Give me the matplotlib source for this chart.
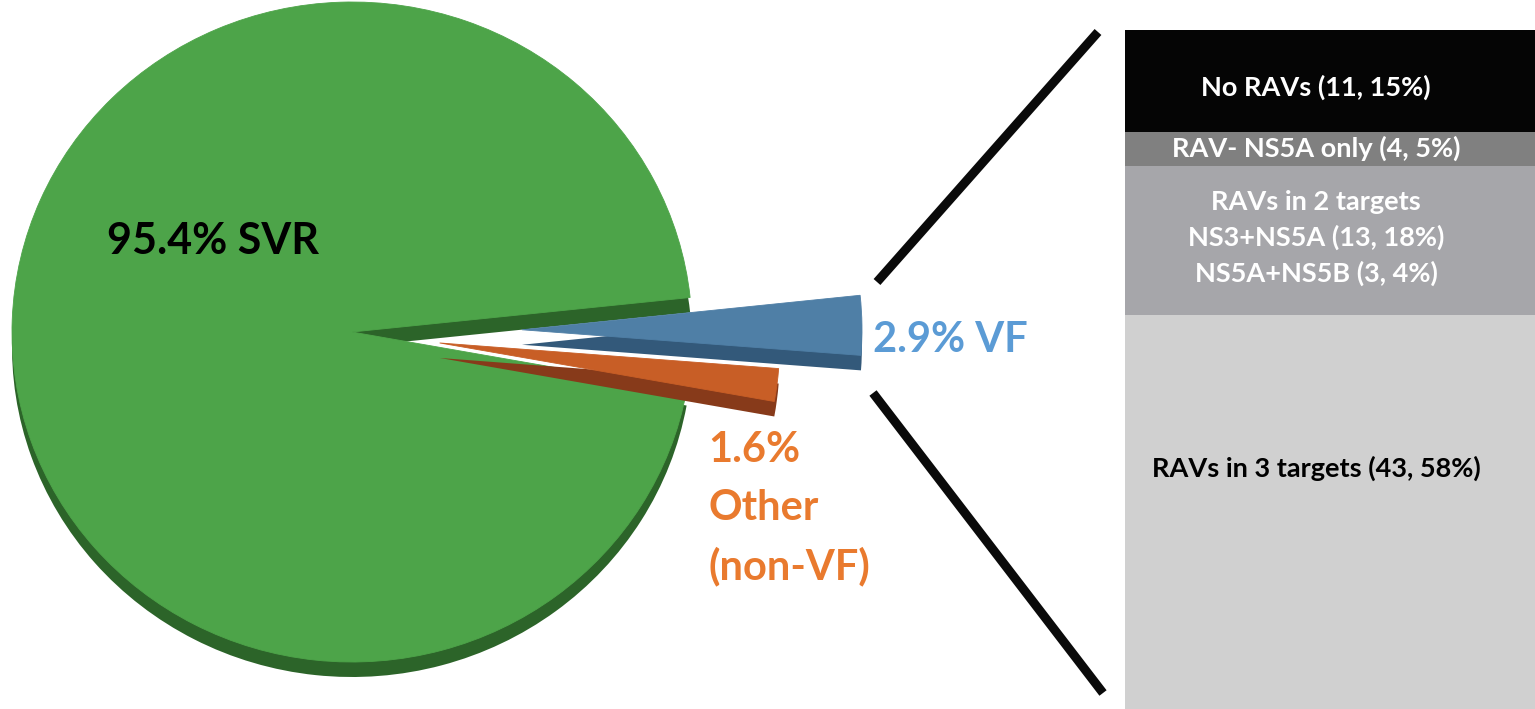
import matplotlib
matplotlib.use("Agg")
import matplotlib.pyplot as plt
import numpy as np

# ---------------- data ----------------
pie_labels = ["95.4% SVR", "1.6%\nOther\n(non-VF)", "2.9% VF"]
pie_values = [95.4, 1.6, 2.9]
pie_explode = [0.0, 0.26, 0.50]

bar_labels = ["No RAVs (11, 15%)",
              "RAV- NS5A only (4, 5%)",
              "RAVs in 2 targets\nNS3+NS5A (13, 18%)\nNS5A+NS5B (3, 4%)",
              "RAVs in 3 targets (43, 58%)"]
bar_values = [15, 5, 22, 58]

# ---------------- style ----------------
W, H = 1535, 709
plt.rcParams['font.family'] = ['Lato', 'DejaVu Sans']
top_colors = ["#4DA449", "#C85E26", "#4F7FA6"]
side_colors = ["#2C6429", "#873A1A", "#33597A"]
zbase = [1, 5, 3]
bar_colors = ["#050505", "#808080", "#A6A6AA", "#D0D0D0"]
bar_text_colors = ["white", "white", "white", "black"]
bar_label_shift = [0.9, 0.0, -0.4, -6.5]   # label position tweak (% units)

fig = plt.figure(figsize=(W / 100, H / 100), dpi=100)

# pie geometry in pixels
cx, cy, rx, ry = 352, 332, 340, 330
depth = 15 / ry

ax = fig.add_axes([0, 0, 1, 1])
side, _ = ax.pie(pie_values, explode=pie_explode, startangle=6, counterclock=True,
                 colors=side_colors, center=(0, -depth),
                 wedgeprops=dict(linewidth=0))
top, _ = ax.pie(pie_values, explode=pie_explode, startangle=6, counterclock=True,
                colors=top_colors, center=(0, 0),
                wedgeprops=dict(linewidth=0.6))
for i in range(3):
    side[i].set_zorder(zbase[i])
    top[i].set_zorder(zbase[i] + 1)
    top[i].set_edgecolor(top_colors[i])
ax.set_aspect('auto')
ax.set_xlim(-cx / rx, (W - cx) / rx)
ax.set_ylim((cy - H) / ry, cy / ry)
ax.axis('off')

# overlay in pixel coordinates
ov = fig.add_axes([0, 0, 1, 1], facecolor='none')
ov.set_xlim(0, W)
ov.set_ylim(H, 0)
ov.axis('off')

ov.text(107, 241, pie_labels[0], fontsize=31, fontweight='bold', color='black',
        ha='left', va='center')
ov.text(873, 340, pie_labels[2], fontsize=30, fontweight='bold', color='#5B9BD5',
        ha='left', va='center')
ov.text(708, 509, pie_labels[1], fontsize=30, fontweight='bold', color='#E97A2E',
        ha='left', va='center', linespacing=1.62)

ov.plot([877, 1098], [282, 32], color='#0A0A0A', lw=6.5, solid_capstyle='butt')
ov.plot([873, 1103], [393, 693], color='#0A0A0A', lw=6.5, solid_capstyle='butt')

# stacked bar
bx0, by0 = 1125, 30
axb = fig.add_axes([bx0 / W, 0, (W - bx0) / W, (H - by0) / H])
cum = 0
for v, c, lab, tc, sh in zip(bar_values, bar_colors, bar_labels, bar_text_colors,
                             bar_label_shift):
    axb.bar(0, v, bottom=cum, width=1, color=c, linewidth=0)
    xt = (1316 - bx0) / (W - bx0) - 0.5
    axb.text(xt, cum + v / 2 + sh, lab, ha='center', va='center', color=tc,
             fontsize=19.5, fontweight='bold', linespacing=1.5)
    cum += v
axb.set_xlim(-0.5, 0.5)
axb.set_ylim(100, 0)
axb.axis('off')

fig.savefig("out.png", dpi=100)
